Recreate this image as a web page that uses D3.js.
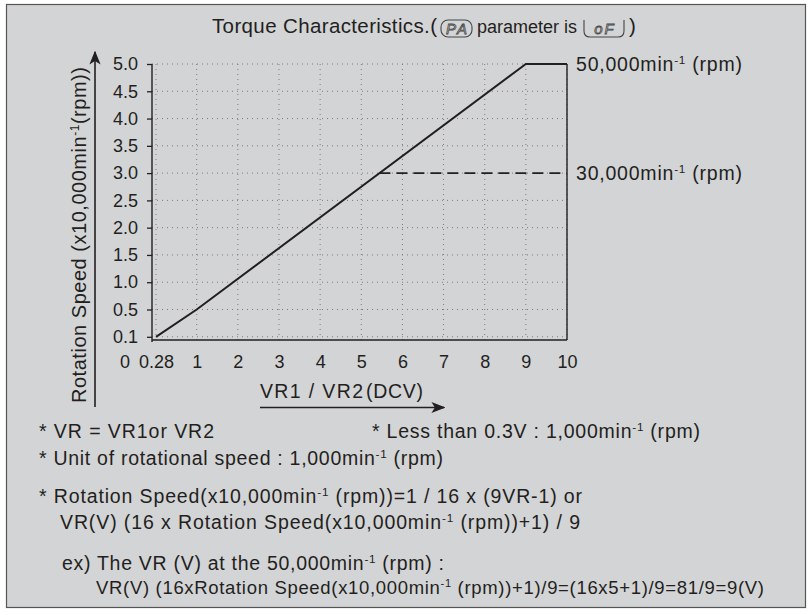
<!DOCTYPE html>
<html><head><meta charset="utf-8">
<script src="https://cdn.jsdelivr.net/npm/d3@7"></script>
<style>
html,body{margin:0;padding:0;background:#fff;}
text{font-family:"Liberation Sans",Arial,sans-serif;fill:#231f20;}
</style></head>
<body>
<svg id="c" width="812" height="615"></svg>
<script>
// ---- data ----
const xTickValues = [0.28, 1, 2, 3, 4, 5, 6, 7, 8, 9, 10];
const xTickLabels = ["0.28", "1", "2", "3", "4", "5", "6", "7", "8", "9", "10"];
const yTickValues = [0.1, 0.5, 1.0, 1.5, 2.0, 2.5, 3.0, 3.5, 4.0, 4.5, 5.0];
const yTickLabels = ["0.1", "0.5", "1.0", "1.5", "2.0", "2.5", "3.0", "3.5", "4.0", "4.5", "5.0"];
const speedVR  = [0.28, 1, 9, 10];
const speedRPM = [0.1, 0.5, 5.0, 5.0];
const limitVR  = [5.44, 10];
const limitRPM = [3.0, 3.0];
const sideLabelValues = [5.0, 3.0];
const sideLabelTexts = ["50,000min^-1 (rpm)", "30,000min^-1 (rpm)"];
const titleTexts = ["Torque Characteristics.(", "parameter is", ")"];
const titleCodes = ["PA", "oF"];
const yAxisTitle = "Rotation Speed (x10,000min^-1(rpm))";
const xAxisTitle = ["VR1 / VR2", "(DCV)"];
const noteTexts = [
  "* VR = VR1or VR2",
  "* Less than 0.3V : 1,000min^-1 (rpm)",
  "* Unit of rotational speed : 1,000min^-1 (rpm)",
  "* Rotation Speed(x10,000min^-1 (rpm))=1 / 16 x (9VR-1) or",
  "VR(V) (16 x Rotation Speed(x10,000min^-1 (rpm))+1) / 9",
  "ex) The VR (V) at the 50,000min^-1 (rpm) :",
  "VR(V) (16xRotation Speed(x10,000min^-1 (rpm))+1)/9=(16x5+1)/9=81/9=9(V)"
];

(function draw() {
const svg = d3.select("#c");
const bg = "#d3d4d6";
svg.append("rect").attr("x", 6.5).attr("y", 4.5).attr("width", 799).attr("height", 603)
  .attr("fill", bg).attr("stroke", "#555").attr("stroke-width", 1.2);

const x = d3.scaleLinear().domain([0.28, 1, 10]).range([156, 196.7, 567]);
const y = d3.scaleLinear().domain([0.1, 0.5, 5.0]).range([336.8, 309.5, 64]);
const pL = 152, pB = 340, pT = y(5.0), pR = x(10);

function rich(sel, str, fs) {
  const parts = str.split("^-1");
  parts.forEach((p, i) => {
    const t = sel.append("tspan").text(p);
    if (i > 0) t.attr("dy", fs * 0.36);
    if (i < parts.length - 1) {
      sel.append("tspan").attr("dy", -fs * 0.36).attr("font-size", fs * 0.6).text("-1");
    }
  });
  return sel;
}

// grid
const grid = svg.append("g").attr("stroke", "#7a7a7a").attr("stroke-width", 1).attr("stroke-dasharray", "1,4");
grid.selectAll(".gx").data(xTickValues).join("line")
  .attr("x1", d => x(d)).attr("x2", d => x(d)).attr("y1", pT).attr("y2", pB);
grid.selectAll(".gy").data(yTickValues).join("line")
  .attr("x1", pL).attr("x2", pR).attr("y1", d => y(d)).attr("y2", d => y(d));

// axes
const yAxis = d3.axisLeft(y).tickValues(yTickValues).tickFormat((d, i) => yTickLabels[i]).tickSize(5).tickPadding(9);
const gy = svg.append("g").attr("transform", `translate(${pL},0)`).call(yAxis);
gy.select(".domain").remove();
gy.selectAll(".tick line").attr("stroke", "#231f20").attr("stroke-width", 1.3);
gy.selectAll(".tick text").attr("font-size", 18).attr("font-family", "Liberation Sans, Arial, sans-serif").attr("fill", "#231f20");

const xAxis = d3.axisBottom(x).tickValues(xTickValues).tickFormat((d, i) => xTickLabels[i]).tickSize(0).tickPadding(15);
const gx = svg.append("g").attr("transform", `translate(0,${pB})`).call(xAxis);
gx.select(".domain").remove();
gx.selectAll(".tick text").attr("font-size", 18).attr("font-family", "Liberation Sans, Arial, sans-serif").attr("fill", "#231f20");
svg.append("text").attr("x", 125).attr("y", 368).attr("text-anchor", "middle").attr("font-size", 18).text("0");

const frame = svg.append("g").attr("stroke", "#231f20").attr("stroke-width", 1.4).attr("fill", "none");
frame.append("line").attr("x1", pL).attr("x2", pL).attr("y1", pT).attr("y2", pB + 2);
frame.append("line").attr("x1", pL).attr("x2", pR).attr("y1", pB).attr("y2", pB);
frame.append("line").attr("x1", pR).attr("x2", pR).attr("y1", pT).attr("y2", pB);

// data lines
const line = d3.line().x(d => x(d[0])).y(d => y(d[1]));
svg.append("path").datum(d3.zip(speedVR, speedRPM)).attr("d", line)
  .attr("fill", "none").attr("stroke", "#231f20").attr("stroke-width", 2);
svg.append("path").datum(d3.zip(limitVR, limitRPM)).attr("d", line)
  .attr("fill", "none").attr("stroke", "#231f20").attr("stroke-width", 1.8).attr("stroke-dasharray", "11,6");

// side labels
sideLabelValues.forEach((v, i) => {
  const t = svg.append("text").attr("x", 576).attr("y", y(v) + 7).attr("font-size", 19.5)
    .attr("textLength", 166).attr("lengthAdjust", "spacing");
  rich(t, sideLabelTexts[i], 19.5);
});

// arrows
const defs = svg.append("defs");
defs.append("marker").attr("id", "arr").attr("viewBox", "0 0 10 10").attr("refX", 9).attr("refY", 5)
  .attr("markerWidth", 14).attr("markerHeight", 14).attr("markerUnits", "userSpaceOnUse").attr("orient", "auto")
  .append("path").attr("d", "M0,1 L10,5 L0,9 L2.5,5 Z").attr("fill", "#231f20");
svg.append("line").attr("x1", 95).attr("x2", 95).attr("y1", 407).attr("y2", 52)
  .attr("stroke", "#231f20").attr("stroke-width", 1.6).attr("marker-end", "url(#arr)");
svg.append("line").attr("x1", 260).attr("x2", 444).attr("y1", 407.5).attr("y2", 407.5)
  .attr("stroke", "#231f20").attr("stroke-width", 1.6).attr("marker-end", "url(#arr)");

// axis titles
const yt = svg.append("text").attr("transform", "translate(86,235) rotate(-90)").attr("text-anchor", "middle")
  .attr("font-size", 20).attr("textLength", 336).attr("lengthAdjust", "spacing");
rich(yt, yAxisTitle, 20);
svg.append("text").attr("x", 260).attr("y", 398).attr("font-size", 19.5)
  .attr("textLength", 103).attr("lengthAdjust", "spacing").text(xAxisTitle[0]);
svg.append("text").attr("x", 366).attr("y", 398).attr("font-size", 19.5)
  .attr("textLength", 57).attr("lengthAdjust", "spacing").text(xAxisTitle[1]);

// title
const tb = 33, tfs = 20.5;
svg.append("text").attr("x", 212).attr("y", tb).attr("font-size", tfs)
  .attr("textLength", 225).attr("lengthAdjust", "spacing").text(titleTexts[0]);
svg.append("text").attr("x", 477).attr("y", tb).attr("font-size", 18).text(titleTexts[1]);
svg.append("text").attr("x", 629).attr("y", tb).attr("font-size", tfs).text(titleTexts[2]);
// code boxes
const b1 = {x: 441, w: 31}, b2 = {x: 584, w: 40};
svg.append("rect").attr("x", b1.x).attr("y", tb - 13).attr("width", b1.w).attr("height", 17).attr("rx", 7)
  .attr("fill", "none").attr("stroke", "#444").attr("stroke-width", 1.1);
svg.append("path").attr("d", `M${b2.x},${tb-13} L${b2.x},${tb-2} Q${b2.x},${tb+4} ${b2.x+6},${tb+4} L${b2.x+b2.w-6},${tb+4} Q${b2.x+b2.w},${tb+4} ${b2.x+b2.w},${tb-2} L${b2.x+b2.w},${tb-13}`)
  .attr("fill", "none").attr("stroke", "#444").attr("stroke-width", 1.1);
[b1, b2].forEach((b, i) => {
  svg.append("text").attr("x", b.x + b.w / 2 + 1).attr("y", tb + 1).attr("text-anchor", "middle")
    .attr("font-size", 15).attr("font-style", "italic").attr("letter-spacing", 2)
    .style("fill", "none").attr("stroke", "#444").attr("stroke-width", 0.8).text(titleCodes[i]);
});

// notes
const noteX = [39, 372, 39, 39, 60, 62, 96];
const noteY = [438, 438, 465, 503, 529, 570, 594];
const noteW = [175, 328, 404, 543, 520, 382, 668];
const noteFS = [19.5, 19.5, 19.5, 19.5, 19.5, 19.5, 18.5];
noteTexts.forEach((s, i) => {
  const t = svg.append("text").attr("x", noteX[i]).attr("y", noteY[i]).attr("font-size", noteFS[i])
    .attr("textLength", noteW[i]).attr("lengthAdjust", "spacing");
  rich(t, s, noteFS[i]);
});
})();
</script>
</body></html>
